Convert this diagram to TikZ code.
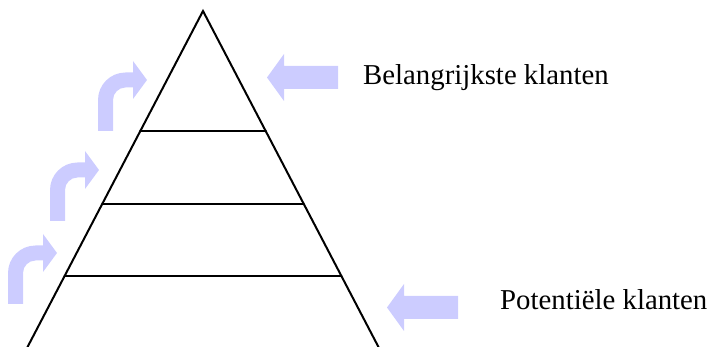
\documentclass[tikz,border=0pt]{standalone}
\usepackage{fontspec}
\setmainfont{Liberation Serif}
\usetikzlibrary{calc}
\definecolor{arrowfill}{RGB}{204,204,255}
\tikzset{
  pyr/.style={line width=2pt, line cap=round, line join=miter, draw=black},
  lbl/.style={inner sep=0pt, anchor=base west, font=\fontsize{28.8}{34}\selectfont},
  curvarrow/.pic={
    \fill[arrowfill] (0,0) -- (0,-31) arc[start angle=180,end angle=270,radius=27.5]
      -- (35,-58.5) -- (35,-70) -- (49,-51) -- (35,-32) -- (35,-43.5) -- (27.5,-43.5)
      arc[start angle=270,end angle=180,radius=12.5] -- (15,0) -- cycle;
  },
  blockarrow/.pic={
    \fill[arrowfill] (0,0) -- (17,-23.5) -- (17,-11.5) -- (71,-11.5) -- (71,11.5)
      -- (17,11.5) -- (17,23.5) -- cycle;
  }
}
\begin{document}
\begin{tikzpicture}[x=1pt,y=-1pt]
\useasboundingbox (0,0) rectangle (710,347);
\coordinate (apex) at (203,11);
\coordinate (bl) at (27,348);
\coordinate (br) at (379,348);
% arrows
\pic at (98,131) {curvarrow};
\pic at (50,221) {curvarrow};
\pic at (8,304) {curvarrow};
\pic at (267,77.5) {blockarrow};
\pic at (387,307.5) {blockarrow};
% pyramid
\draw[pyr] (bl) -- (apex) -- (br);
\draw[pyr, line width=1pt, draw=black!35] (bl) -- (br);
\draw[pyr] ($(apex)!5/14!(bl)$) coordinate (l1) -- ($(apex)!5/14!(br)$) coordinate (r1);
\draw[pyr] ($(apex)!8/14!(bl)$) coordinate (l2) -- ($(apex)!8/14!(br)$) coordinate (r2);
\draw[pyr] ($(apex)!11/14!(bl)$) coordinate (l3) -- ($(apex)!11/14!(br)$) coordinate (r3);
% labels
\node[lbl] (top) at (363,85) {Belangrijkste klanten};
\node[lbl] (bottom) at (500,310) {Potentiële klanten};
\end{tikzpicture}
\end{document}
